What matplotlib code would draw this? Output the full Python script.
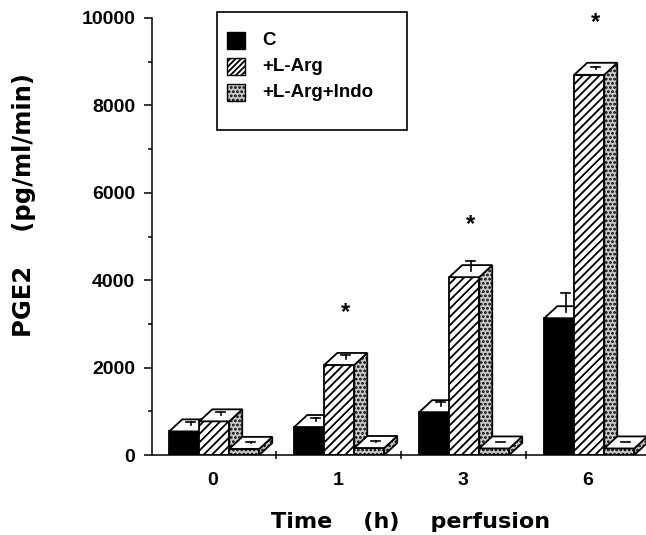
import numpy as np
import matplotlib.pyplot as plt
from matplotlib.patches import Polygon, Rectangle

plt.rcParams['font.family'] = ['Liberation Sans', 'DejaVu Sans']
plt.rcParams['hatch.linewidth'] = 1.3

# data
times = ['0', '1', '3', '6']
series = ['C', '+L-Arg', '+L-Arg+Indo']
c_vals = [540, 640, 980, 3130]
arg_vals = [770, 2060, 4070, 8700]
indo_vals = [140, 160, 150, 150]
c_err = [70, 80, 90, 430]
arg_err = [70, 90, 240, 50]
indo_err = [20, 20, 20, 20]
star = [False, True, True, True]   # * above +L-Arg bars

W, H = 646, 535
fig = plt.figure(figsize=(W / 100, H / 100), dpi=100)
ax = fig.add_axes([152 / W, 80 / H, 494 / W, 437 / H])

bw = 0.24     # front width of one bar (group spacing = 1)
dx = 0.104    # 3d depth, x
dy = 275      # 3d depth, y (data units)
cw = 0.07     # error bar cap width
start = -0.35

stipple = dict(fc='#c8c8c8', hatch='....')
styles = [
    (dict(fc='black', hatch=None), dict(fc='black', hatch=None)),
    (dict(fc='white', hatch='////'), stipple),
    (stipple, stipple),
]


def bar3d(x0, v, err, front, side):
    ax.add_patch(Rectangle((x0, 0), bw, v, ec='black', lw=1.3, **front))
    ax.add_patch(Polygon([(x0 + bw, 0), (x0 + bw + dx, dy), (x0 + bw + dx, v + dy), (x0 + bw, v)],
                         closed=True, ec='black', lw=1.3, **side))
    ax.add_patch(Polygon([(x0, v), (x0 + bw, v), (x0 + bw + dx, v + dy), (x0 + dx, v + dy)],
                         closed=True, fc='white', ec='black', lw=1.3))
    xc = x0 + bw / 2 + dx / 2
    yc = v + dy / 2
    ax.plot([xc, xc], [yc, yc + err], color='black', lw=1.2)
    ax.plot([xc - cw / 2, xc + cw / 2], [yc + err, yc + err], color='black', lw=1.2)


x = np.arange(len(times))
vals = [c_vals, arg_vals, indo_vals]
errs = [c_err, arg_err, indo_err]
for i in x:
    for k in range(3):
        x0 = i + start + k * bw
        bar3d(x0, vals[k][i], errs[k][i], *styles[k])
    if star[i]:
        ax.text(i + start + bw + bw / 2 + dx / 2, arg_vals[i] + 1200, '*', ha='center', va='center',
                fontsize=17, fontweight='bold')

ax.set_xlim(-0.488, 3.464)
ax.set_ylim(0, 10000)
for s in ['top', 'right']:
    ax.spines[s].set_visible(False)
for s in ['left', 'bottom']:
    ax.spines[s].set_linewidth(1.1)

ax.set_yticks(np.arange(0, 10001, 2000))
ax.set_yticks(np.arange(1000, 10000, 2000), minor=True)
ax.tick_params(axis='y', which='major', length=6, width=1.1, pad=6, labelsize=14)
ax.tick_params(axis='y', which='minor', length=3, width=1.1)
ax.set_xticks(x)
ax.set_xticklabels(times)
ax.set_xticks(x[:-1] + 0.5, minor=True)
ax.tick_params(axis='x', which='major', length=0, pad=12, labelsize=14)
ax.tick_params(axis='x', which='minor', length=6, width=1.1, direction='inout')
for lab in ax.get_xticklabels() + ax.get_yticklabels():
    lab.set_fontweight('bold')

fig.text(24 / W, 1 - 205 / H, 'PGE2    (pg/ml/min)', rotation=90, ha='center', va='center',
         fontsize=17.5, fontweight='bold', family='DejaVu Sans')
fig.text(411 / W, 1 - 522 / H, 'Time    (h)    perfusion', ha='center', va='center',
         fontsize=16, fontweight='bold', family='DejaVu Sans')

# legend box, drawn in figure pixels
def px(xp, yp):
    return xp / W, 1 - yp / H

fig.add_artist(Rectangle(px(217, 130), 190 / W, 118 / H, transform=fig.transFigure,
                         fc='white', ec='black', lw=1.2))
leg_styles = [dict(fc='black', hatch=None), dict(fc='white', hatch='//////'), stipple]
for k, name in enumerate(series):
    yc = 40.5 + k * 26
    fig.add_artist(Rectangle(px(227, yc + 8), 18 / W, 16 / H, transform=fig.transFigure,
                             ec='black', lw=1.0, **leg_styles[k]))
    fig.text(*px(262, yc), name, ha='left', va='center', fontsize=13.5, fontweight='bold')

fig.savefig('out.png', dpi=100)
